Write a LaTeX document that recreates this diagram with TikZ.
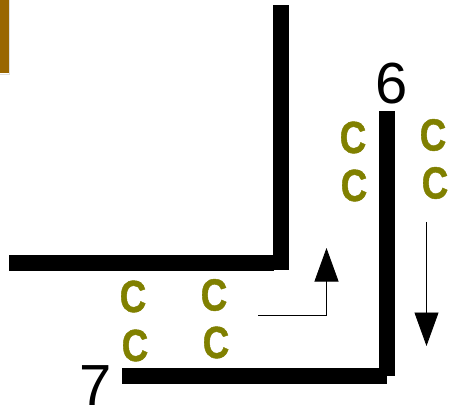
\documentclass[tikz,border=0pt]{standalone}
\usepackage{fontspec}
\setmainfont{Liberation Sans}
\newfontfamily\ringfont[BoldFeatures={FakeBold=1}]{Liberation Sans}
\usetikzlibrary{arrows.meta}
\definecolor{ringolive}{RGB}{128,128,0}
\definecolor{doorbrown}{RGB}{153,102,0}
\tikzset{
  wall/.style={fill=black,draw=none},
  ring/.style={text=ringolive,inner sep=0pt,font=\fontsize{45}{45}\selectfont\ringfont\bfseries},
  num/.style={text=black,inner sep=0pt,font=\fontsize{58}{58}\selectfont},
  flow/.style={draw=black,line width=0.8pt,-{Triangle[length=33.5pt,width=24pt]}}
}
\newcommand{\ringglyph}{\scalebox{.82}[1]{C}}
\begin{document}
\begin{tikzpicture}[x=1pt,y=-1pt]
\useasboundingbox (0,0) rectangle (453,417);
\fill[doorbrown] (0,0) rectangle (8.5,73.5);
\draw[black!12,line width=0.5pt] (9,0) -- (9,74) -- (0,74);
% walls
\fill[wall] (273,5) rectangle (289,270);
\fill[wall] (9,255) rectangle (274,271);
\fill[wall] (379,111) rectangle (395,376);
\fill[wall] (122,368) rectangle (387,384);
% coils
\node[ring] (c1) at (133,296.5) {\ringglyph};
\node[ring] (c2) at (214,295) {\ringglyph};
\node[ring] (c3) at (135,345.5) {\ringglyph};
\node[ring] (c4) at (216,342.5) {\ringglyph};
\node[ring] (c5) at (353,137.5) {\ringglyph};
\node[ring] (c6) at (433,135) {\ringglyph};
\node[ring] (c7) at (354,185.5) {\ringglyph};
\node[ring] (c8) at (435,183) {\ringglyph};
% labels
\node[num] (six) at (391.5,84) {6};
\node[num] (seven) at (96,386) {7};
% arrows
\coordinate (a1) at (258,315.5);
\coordinate (a2) at (326.5,248);
\draw[flow] (a1) -| (a2);
\coordinate (b1) at (426.5,222);
\coordinate (b2) at (426.5,346);
\draw[flow] (b1) -- (b2);
\end{tikzpicture}
\end{document}
